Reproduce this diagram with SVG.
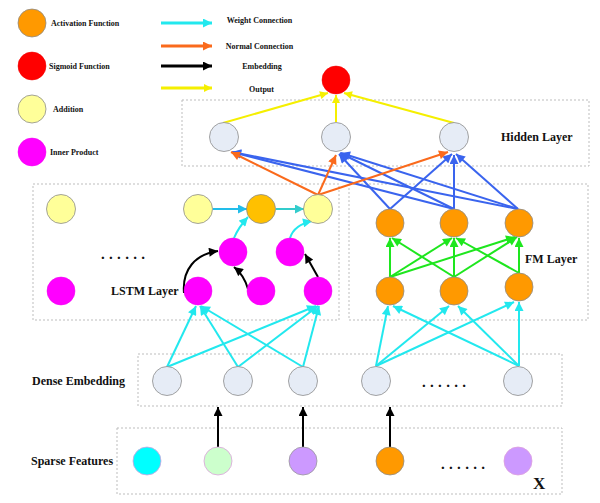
<svg xmlns="http://www.w3.org/2000/svg" width="600" height="503" viewBox="0 0 600 503">
<style>
.lbl{font-family:"Liberation Serif","Times New Roman",serif;font-weight:bold;fill:#111}
.leg{font-size:8px}
.big{font-size:12px}
.dots{font-size:15px;letter-spacing:4.3px}
.box{fill:none;stroke:#bdbdbd;stroke-width:1;stroke-dasharray:2,2}
.n{stroke:#8c8c8c;stroke-width:0.8}
.hid{fill:#e6ecf6}
.org{fill:#ff9900}
.yel{fill:#ffff99}
.mag{fill:#ff00ff;stroke:#ee00ee;stroke-width:0.5}
.cy{stroke:#22e8ee;stroke-width:2;fill:none;marker-end:url(#mCy)}
.bl{stroke:#3a64ee;stroke-width:2;fill:none;marker-end:url(#mBl)}
.or{stroke:#fa6a1c;stroke-width:2;fill:none;marker-end:url(#mOr)}
.gr{stroke:#1ee61e;stroke-width:2;fill:none;marker-end:url(#mGr)}
.ye{stroke:#f5ef00;stroke-width:2;fill:none;marker-end:url(#mYe)}
.bk{stroke:#000;stroke-width:2;fill:none;marker-end:url(#mBk)}
</style>
<defs>
<marker id="mCy" viewBox="0 0 10 10" refX="10" refY="5" markerUnits="userSpaceOnUse" markerWidth="10" markerHeight="9" orient="auto"><path d="M0,0L10,5L0,10z" fill="#22e8ee"/></marker>
<marker id="mLb" viewBox="0 0 10 10" refX="10" refY="5" markerUnits="userSpaceOnUse" markerWidth="10" markerHeight="9" orient="auto"><path d="M0,0L10,5L0,10z" fill="#22bdea"/></marker>
<marker id="mTl" viewBox="0 0 10 10" refX="10" refY="5" markerUnits="userSpaceOnUse" markerWidth="10" markerHeight="9" orient="auto"><path d="M0,0L10,5L0,10z" fill="#33cccc"/></marker>
<marker id="mBl" viewBox="0 0 10 10" refX="10" refY="5" markerUnits="userSpaceOnUse" markerWidth="10" markerHeight="9" orient="auto"><path d="M0,0L10,5L0,10z" fill="#3a64ee"/></marker>
<marker id="mOr" viewBox="0 0 10 10" refX="10" refY="5" markerUnits="userSpaceOnUse" markerWidth="10" markerHeight="9" orient="auto"><path d="M0,0L10,5L0,10z" fill="#fa6a1c"/></marker>
<marker id="mGr" viewBox="0 0 10 10" refX="10" refY="5" markerUnits="userSpaceOnUse" markerWidth="10" markerHeight="9" orient="auto"><path d="M0,0L10,5L0,10z" fill="#1ee61e"/></marker>
<marker id="mYe" viewBox="0 0 10 10" refX="10" refY="5" markerUnits="userSpaceOnUse" markerWidth="9" markerHeight="8" orient="auto"><path d="M0,0L10,5L0,10z" fill="#f5ef00"/></marker>
<marker id="mBk" viewBox="0 0 10 10" refX="10" refY="5" markerUnits="userSpaceOnUse" markerWidth="10" markerHeight="9" orient="auto"><path d="M0,0L10,5L0,10z" fill="#000"/></marker>
</defs>

<!-- Legend -->
<g id="legend">
  <circle cx="32" cy="23" r="14" class="n org"/>
  <text x="51" y="26" class="lbl leg">Activation Function</text>
  <circle cx="32" cy="66" r="14" fill="#ff0000" stroke="#ee0000" stroke-width="0.5"/>
  <text x="49" y="69" class="lbl leg">Sigmoid Function</text>
  <circle cx="32" cy="109" r="14" class="n yel"/>
  <text x="53" y="112" class="lbl leg">Addition</text>
  <circle cx="32" cy="152" r="14" class="mag"/>
  <text x="50" y="155" class="lbl leg">Inner Product</text>
  <line x1="161" y1="23" x2="212" y2="23" stroke="#22e8ee" stroke-width="3" marker-end="url(#mCy)"/>
  <text x="259.5" y="23" text-anchor="middle" class="lbl leg">Weight Connection</text>
  <line x1="161" y1="46" x2="212" y2="46" stroke="#fa6a1c" stroke-width="3" marker-end="url(#mOr)"/>
  <text x="259.5" y="49" text-anchor="middle" class="lbl leg">Normal Connection</text>
  <line x1="161" y1="66" x2="212" y2="66" stroke="#000" stroke-width="3" marker-end="url(#mBk)"/>
  <text x="262" y="69" text-anchor="middle" class="lbl leg">Embedding</text>
  <line x1="161" y1="88" x2="212" y2="88" stroke="#f5ef00" stroke-width="3" marker-end="url(#mYe)"/>
  <text x="261.5" y="92" text-anchor="middle" class="lbl leg">Output</text>
</g>

<!-- Layer boxes -->
<g id="boxes">
  <rect x="182" y="100" width="407" height="66" class="box"/>
  <rect x="33" y="184" width="306" height="136" class="box"/>
  <rect x="349" y="184" width="239" height="136" class="box"/>
  <rect x="138" y="354" width="424" height="52" class="box"/>
  <rect x="117" y="428" width="445" height="66" class="box"/>
</g>

<!-- Connectors -->
<g id="connectors">
  <line x1="223" y1="123" x2="328" y2="93" class="ye"/>
  <line x1="336" y1="122" x2="336" y2="95" class="ye"/>
  <line x1="454" y1="123" x2="344" y2="93" class="ye"/>
  <line x1="454" y1="209" x2="232" y2="152" class="bl"/>
  <line x1="518" y1="209" x2="232" y2="152" class="bl"/>
  <line x1="390" y1="209" x2="339" y2="154" class="bl"/>
  <line x1="454" y1="209" x2="340" y2="153" class="bl"/>
  <line x1="518" y1="209" x2="341" y2="153" class="bl"/>
  <line x1="390" y1="209" x2="452" y2="154" class="bl"/>
  <line x1="454" y1="209" x2="454" y2="155" class="bl"/>
  <line x1="518" y1="209" x2="456" y2="154" class="bl"/>
  <line x1="318" y1="195" x2="231" y2="152" class="or"/>
  <line x1="318" y1="195" x2="336" y2="155" class="or"/>
  <line x1="318" y1="195" x2="448" y2="152" class="or"/>
  <line x1="390" y1="277" x2="390" y2="238" class="gr"/>
  <line x1="390" y1="277" x2="452" y2="238" class="gr"/>
  <line x1="390" y1="277" x2="515" y2="237" class="gr"/>
  <line x1="454" y1="277" x2="392" y2="238" class="gr"/>
  <line x1="454" y1="277" x2="454" y2="238" class="gr"/>
  <line x1="454" y1="277" x2="517" y2="237" class="gr"/>
  <line x1="519" y1="273" x2="456" y2="238" class="gr"/>
  <line x1="519" y1="273" x2="519" y2="238" class="gr"/>
  <line x1="213" y1="209" x2="247" y2="209" stroke="#22bdea" stroke-width="2" marker-end="url(#mLb)"/>
  <line x1="276" y1="209" x2="304" y2="209" stroke="#33cccc" stroke-width="2" marker-end="url(#mTl)"/>
  <path d="M234,238 Q238,228 248,217" class="cy"/>
  <path d="M290,238 Q294,225 312,221" class="cy"/>
  <path d="M184,293 C182,270 195,254 218,251" class="bk"/>
  <path d="M248,289 Q244,275 234,267" class="bk"/>
  <line x1="318" y1="277" x2="305" y2="254" class="bk"/>
  <line x1="167" y1="367" x2="196" y2="306" class="cy"/>
  <line x1="167" y1="367" x2="316" y2="306" class="cy"/>
  <line x1="238" y1="367" x2="200" y2="306" class="cy"/>
  <line x1="238" y1="367" x2="318" y2="306" class="cy"/>
  <line x1="303" y1="367" x2="201" y2="306" class="cy"/>
  <line x1="303" y1="367" x2="319" y2="306" class="cy"/>
  <line x1="376" y1="366" x2="388" y2="306" class="cy"/>
  <line x1="376" y1="366" x2="449" y2="306" class="cy"/>
  <line x1="376" y1="366" x2="514" y2="302" class="cy"/>
  <line x1="519" y1="366" x2="393" y2="306" class="cy"/>
  <line x1="519" y1="366" x2="458" y2="306" class="cy"/>
  <line x1="519" y1="366" x2="519" y2="302" class="cy"/>
  <line x1="218" y1="447" x2="218" y2="407" class="bk"/>
  <line x1="303" y1="447" x2="303" y2="407" class="bk"/>
  <line x1="390" y1="447" x2="390" y2="407" class="bk"/>
</g>

<g id="output"><circle cx="336" cy="80" r="14" fill="#ff0000" stroke="#ee0000" stroke-width="0.5"/></g>

<g id="hidden">
  <circle cx="224" cy="137" r="14.5" class="n hid"/>
  <circle cx="336" cy="137" r="14.5" class="n hid"/>
  <circle cx="454" cy="137" r="14.5" class="n hid"/>
  <text x="501" y="141" class="lbl big">Hidden Layer</text>
</g>

<g id="lstm">
  <circle cx="61" cy="209" r="14.5" class="n yel"/>
  <circle cx="198" cy="209" r="14.5" class="n yel"/>
  <circle cx="261" cy="209" r="14.5" class="n" fill="#ffc000"/>
  <circle cx="318" cy="209" r="14.5" class="n yel"/>
  <circle cx="233" cy="252" r="14" class="mag"/>
  <circle cx="290" cy="252" r="14" class="mag"/>
  <circle cx="61" cy="291" r="14" class="mag"/>
  <circle cx="198" cy="291" r="14" class="mag"/>
  <circle cx="261" cy="291" r="14" class="mag"/>
  <circle cx="318" cy="291" r="14" class="mag"/>
  <text x="101" y="259" class="lbl dots">......</text>
  <text x="111" y="295" class="lbl big">LSTM Layer</text>
</g>

<g id="fm">
  <circle cx="390" cy="223" r="14" class="n org"/>
  <circle cx="454" cy="223" r="14" class="n org"/>
  <circle cx="519" cy="223" r="14" class="n org"/>
  <circle cx="390" cy="291" r="14" class="n org"/>
  <circle cx="454" cy="291" r="14" class="n org"/>
  <circle cx="519" cy="287" r="14" class="n org"/>
  <text x="525" y="263" class="lbl big">FM Layer</text>
</g>

<g id="dense">
  <circle cx="167" cy="381" r="14.5" class="n hid"/>
  <circle cx="238" cy="381" r="14.5" class="n hid"/>
  <circle cx="303" cy="381" r="14.5" class="n hid"/>
  <circle cx="376" cy="381" r="14.5" class="n hid"/>
  <circle cx="518" cy="381" r="14.5" class="n hid"/>
  <text x="422" y="387" class="lbl dots">......</text>
  <text x="32" y="385" class="lbl big">Dense Embedding</text>
</g>

<g id="sparse">
  <circle cx="147" cy="461" r="14" fill="#00ffff" stroke="#d8a0e0" stroke-width="0.8"/>
  <circle cx="218" cy="461" r="14" fill="#ccffcc" stroke="#dda0dd" stroke-width="0.8"/>
  <circle cx="303" cy="461" r="14" fill="#cc99ff" stroke="#999" stroke-width="0.8"/>
  <circle cx="390" cy="461" r="14" class="n org"/>
  <circle cx="518" cy="461" r="14" fill="#cc99ff" stroke="#dda0dd" stroke-width="0.8"/>
  <text x="441" y="469" class="lbl dots">......</text>
  <text x="31" y="465" class="lbl big">Sparse Features</text>
  <text x="533" y="489" class="lbl" font-size="17">X</text>
</g>
</svg>
